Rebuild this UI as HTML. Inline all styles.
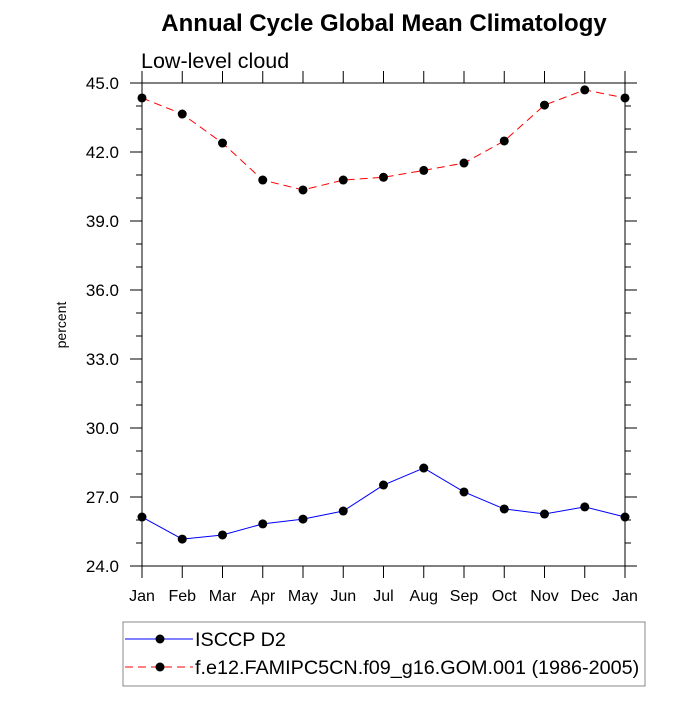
<!DOCTYPE html>
<html><head><meta charset="utf-8"><style>
body{margin:0;background:#fff}
svg text{font-family:"Liberation Sans",Arial,sans-serif}
</style></head><body>
<svg id="chart" width="700" height="700" viewBox="0 0 700 700">
<text x="384" y="31" font-size="24" font-weight="bold" text-anchor="middle">Annual Cycle Global Mean Climatology</text>
<text x="141" y="68" font-size="21.5">Low-level cloud</text>
<text x="66" y="325" font-size="14" text-anchor="middle" transform="rotate(-90 66 325)">percent</text>
<g id="axes"></g>
<g id="series"></g>
<g>
<rect x="123" y="622" width="522" height="64" fill="none" stroke="#888" stroke-width="1"/>
<g>
<line x1="125" y1="639" x2="193" y2="639" stroke="#0000ff" stroke-width="1"/>
<circle cx="160" cy="639" r="4.5" fill="#000"/>
<text x="195" y="646" font-size="19.8">ISCCP D2</text></g>
<g>
<line x1="125" y1="667" x2="193" y2="667" stroke="#ff0000" stroke-width="1" stroke-dasharray="8,5"/>
<circle cx="160" cy="667" r="4.5" fill="#000"/>
<text x="195" y="674" font-size="19.8">f.e12.FAMIPC5CN.f09_g16.GOM.001 (1986-2005)</text></g>
</g>
</svg>
<script>
const months=["Jan","Feb","Mar","Apr","May","Jun","Jul","Aug","Sep","Oct","Nov","Dec","Jan"];
const isccp=[26.13,25.17,25.35,25.83,26.04,26.39,27.52,28.26,27.22,26.48,26.26,26.57,26.13];
const model=[44.35,43.65,42.39,40.78,40.35,40.78,40.9,41.2,41.52,42.48,44.04,44.7,44.35];
const yTicks=[24,27,30,33,36,39,42,45];
const yTickLabels=["24.0","27.0","30.0","33.0","36.0","39.0","42.0","45.0"];
const yMin=24,yMax=45;
const L=142,R=625,T=83,B=566;
const NS="http://www.w3.org/2000/svg";
const xs=i=>L+(R-L)*i/(months.length-1);
const ys=v=>B-(v-yMin)/(yMax-yMin)*(B-T);
function mk(tag,attrs,parent){const e=document.createElementNS(NS,tag);for(const k in attrs)e.setAttribute(k,attrs[k]);parent.appendChild(e);return e;}
const ax=document.getElementById('axes'),se=document.getElementById('series');
const frame=mk('rect',{x:L,y:T,width:R-L,height:B-T,fill:'none',stroke:'#000','stroke-width':1},ax);


months.forEach((m,i)=>{const x=xs(i);
mk('line',{x1:x,y1:B,x2:x,y2:B+12,stroke:'#000'},ax);
mk('line',{x1:x,y1:T,x2:x,y2:T-12,stroke:'#000'},ax);
const t=mk('text',{x:x,y:B+35,'font-size':16,'text-anchor':'middle'},ax);t.textContent=m;

});
for(let v=yMin;v<=yMax;v+=1){const y=ys(v);const major=(v-yMin)%3===0;const len=major?12:6;
mk('line',{x1:L,y1:y,x2:L-len,y2:y,stroke:'#000'},ax);
mk('line',{x1:R,y1:y,x2:R+len,y2:y,stroke:'#000'},ax);}
yTicks.forEach((v,i)=>{const t=mk('text',{x:L-23,y:ys(v)+6,'font-size':17,'text-anchor':'end'},ax);t.textContent=yTickLabels[i];

});
function draw(vals,color,dash,name){
const p=mk('polyline',{points:vals.map((v,i)=>xs(i)+','+ys(v)).join(' '),fill:'none',stroke:color,'stroke-width':1,'stroke-dasharray':dash},se);


vals.forEach((v,i)=>{const c=mk('circle',{cx:xs(i),cy:ys(v),r:4.5,fill:'#000'},se);

});}
draw(isccp,'#0000ff','none','isccp');
draw(model,'#ff0000','8,5','model');
</script>
</body></html>
